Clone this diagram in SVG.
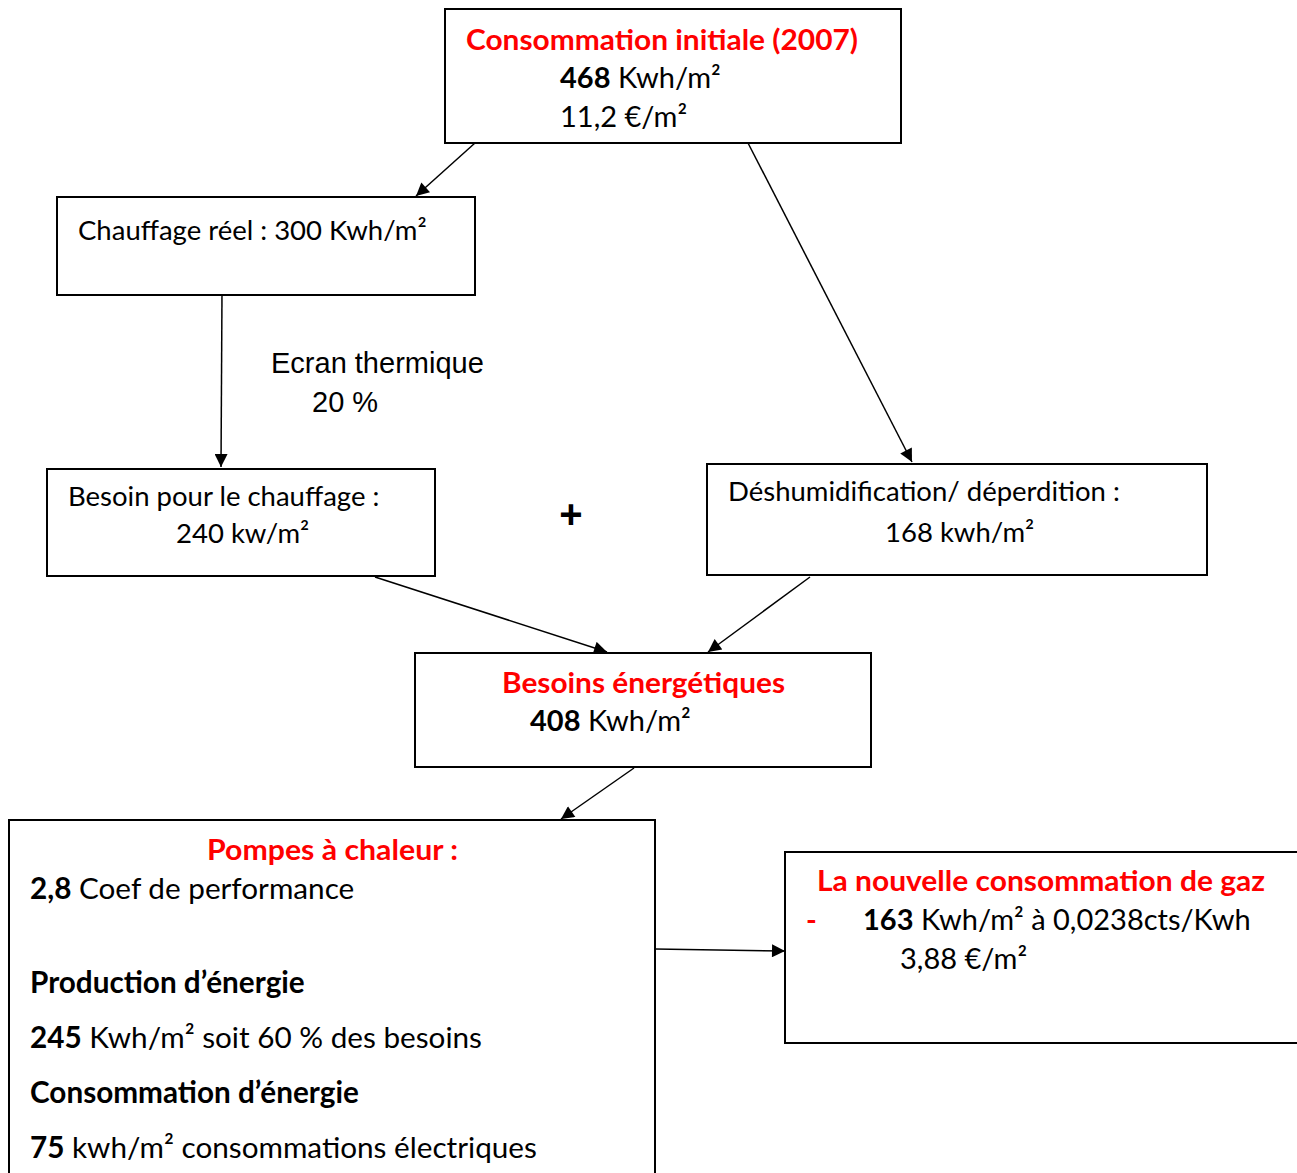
<svg xmlns="http://www.w3.org/2000/svg" width="1297" height="1173" viewBox="0 0 1297 1173">
<defs>
<marker id="ah" viewBox="0 0 10 10" refX="10" refY="5" markerWidth="15" markerHeight="13" markerUnits="userSpaceOnUse" orient="auto">
<path d="M0,0 L10,5 L0,10 z" fill="#000"/>
</marker>
<style>
.box{fill:#fff;stroke:#000;stroke-width:2}
.t{font-family:Lato,"Open Sans","Liberation Sans",sans-serif;font-size:29px;fill:#000}
.s{font-size:27.5px}
.l{font-size:29.7px}
.r{fill:#ff0000;font-weight:bold}
.b{font-weight:bold}
.a{font-family:"Liberation Sans",Arial,sans-serif;font-size:29px;fill:#000}
.c{stroke:#000;stroke-width:1.5;fill:none;marker-end:url(#ah)}
</style>
</defs>
<rect width="1297" height="1173" fill="#fff"/>
<g id="connectors">
<line class="c" x1="475" y1="143" x2="416" y2="196"/>
<line class="c" x1="222" y1="292" x2="221" y2="467"/>
<line class="c" x1="748" y1="143" x2="912" y2="462"/>
<line class="c" x1="375" y1="577" x2="607" y2="652"/>
<line class="c" x1="810" y1="577" x2="708" y2="652"/>
<line class="c" x1="634" y1="768" x2="561" y2="819"/>
<line class="c" x1="655" y1="949" x2="785" y2="951"/>
</g>
<g id="n1">
<rect class="box" x="445" y="9" width="456" height="134"/>
<text class="t r" x="466" y="50" textLength="392" lengthAdjust="spacingAndGlyphs">Consommation initiale (2007)</text>
<text class="t" x="560" y="88"><tspan class="b">468</tspan> Kwh/m²</text>
<text class="t" x="560" y="127">11,2 €/m²</text>
</g>
<g id="n2">
<rect class="box" x="57" y="197" width="418" height="98"/>
<text class="t s" x="78" y="240">Chauffage réel : 300 Kwh/m²</text>
</g>
<g id="label-ecran">
<text class="a" x="271" y="373">Ecran thermique</text>
<text class="a" x="312" y="412">20 %</text>
</g>
<g id="n3">
<rect class="box" x="47" y="469" width="388" height="107"/>
<text class="t s" x="68" y="506">Besoin pour le chauffage :</text>
<text class="t s" x="176" y="543">240 kw/m²</text>
</g>
<g id="plus">
<text x="571" y="528" font-family="Liberation Sans, Arial, sans-serif" font-size="40" font-weight="bold" text-anchor="middle">+</text>
</g>
<g id="n4">
<rect class="box" x="707" y="464" width="500" height="111"/>
<text class="t s" x="728" y="501">Déshumidification/ déperdition :</text>
<text class="t s" x="885" y="542">168 kwh/m²</text>
</g>
<g id="n5">
<rect class="box" x="415" y="653" width="456" height="114"/>
<text class="t r" x="502" y="693" textLength="283" lengthAdjust="spacingAndGlyphs">Besoins énergétiques</text>
<text class="t" x="530" y="731"><tspan class="b">408</tspan> Kwh/m²</text>
</g>
<g id="n6">
<rect class="box" x="9" y="820" width="646" height="360"/>
<text class="t r" x="207" y="860" textLength="251" lengthAdjust="spacingAndGlyphs">Pompes à chaleur :</text>
<text class="t l" x="30" y="899"><tspan class="b">2,8</tspan> Coef de performance</text>
<text class="t l b" x="30" y="993">Production d’énergie</text>
<text class="t l" x="30" y="1048"><tspan class="b">245</tspan> Kwh/m² soit 60 % des besoins</text>
<text class="t l b" x="30" y="1103">Consommation d’énergie</text>
<text class="t l" x="30" y="1158"><tspan class="b">75</tspan> kwh/m² consommations électriques</text>
</g>
<g id="n7">
<rect class="box" x="785" y="852" width="520" height="191"/>
<text class="t r" x="817" y="891" textLength="448" lengthAdjust="spacingAndGlyphs">La nouvelle consommation de gaz</text>
<text class="t r" x="806" y="930">-</text>
<text class="t" x="863" y="930"><tspan class="b">163</tspan> Kwh/m² à 0,0238cts/Kwh</text>
<text class="t" x="900" y="969">3,88 €/m²</text>
</g>
</svg>
